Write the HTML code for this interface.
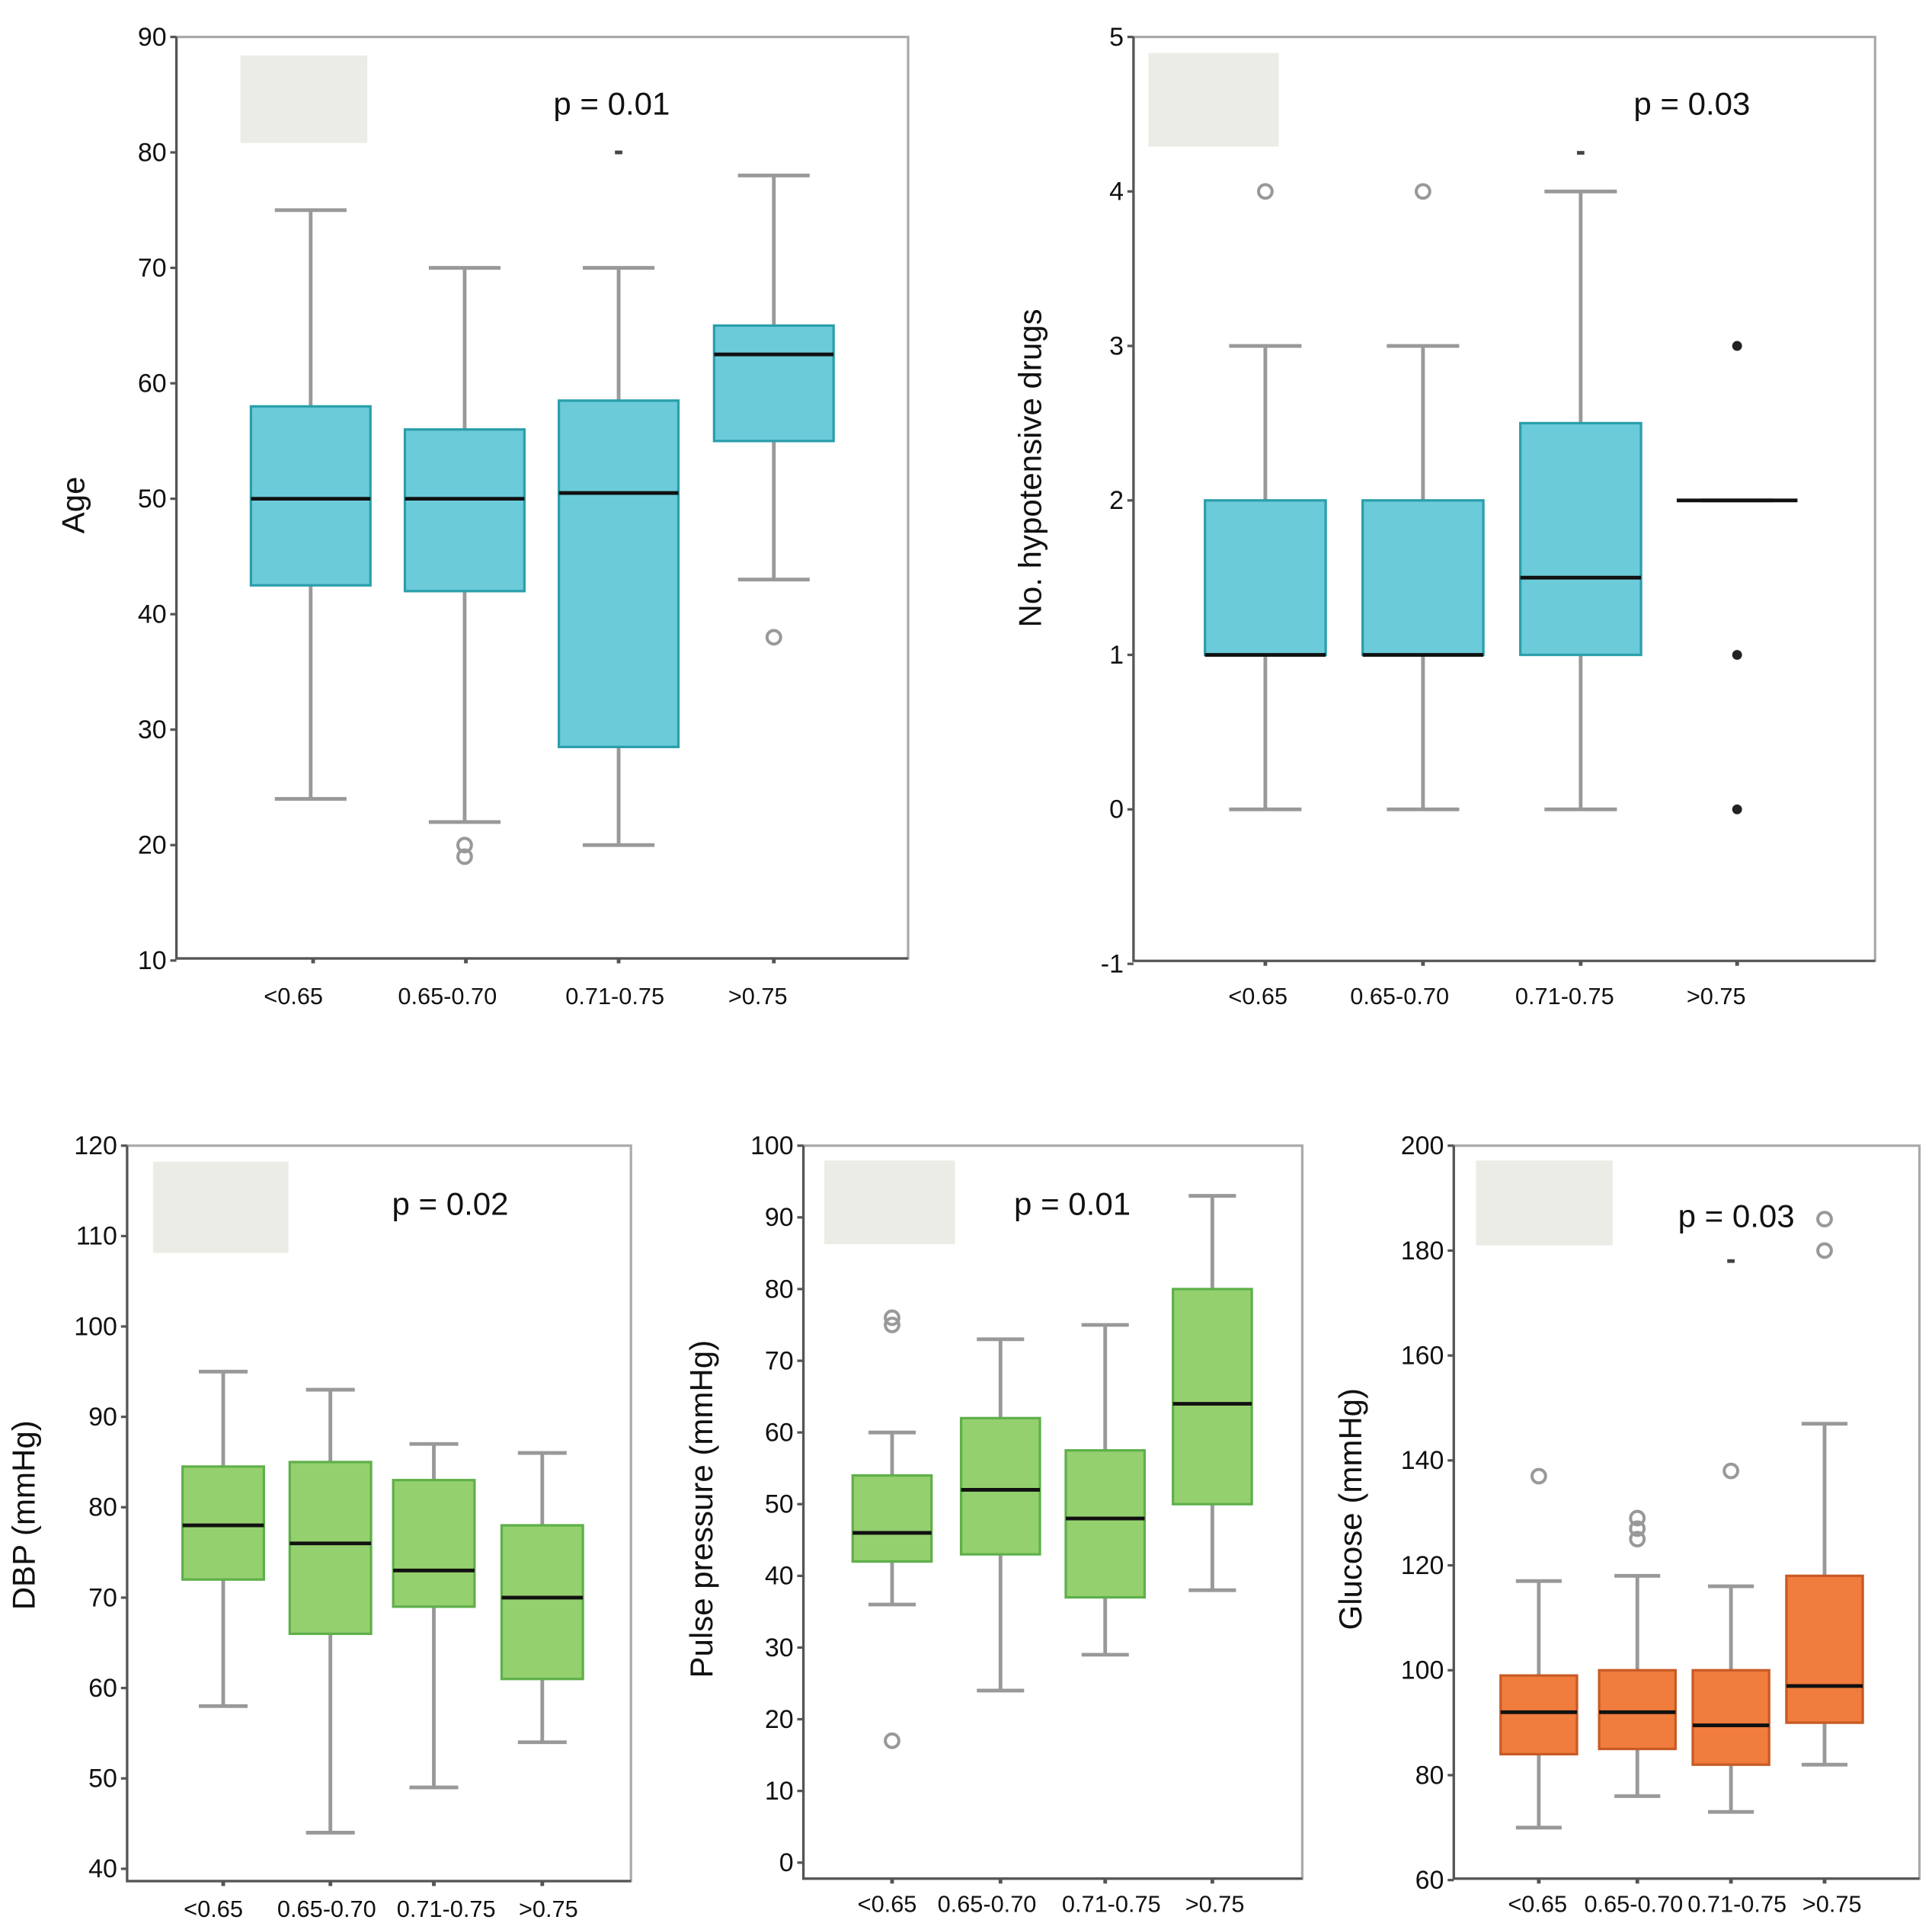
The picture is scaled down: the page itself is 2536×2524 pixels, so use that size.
<!DOCTYPE html>
<html><head><meta charset="utf-8"><style>
html,body{margin:0;padding:0;background:#fff;}
svg{display:block;font-family:"Liberation Sans",sans-serif;}
</style></head><body>
<svg id="c" width="2536" height="2524" viewBox="0 0 1568 1561" xmlns="http://www.w3.org/2000/svg"></svg>
<script>
// ---- data ----
const categories = ["<0.65","0.65-0.70","0.71-0.75",">0.75"];
const ageStats = [[24,42.5,50,58,75],[22,42,50,56,70],[20,28.5,50.5,58.5,70],[43,55,62.5,65,78]];
const ageOutliers = [[],[19,20],[],[38]];
const ageSmall = [[],[],[80],[]];
const ageTicks = [10,20,30,40,50,60,70,80,90];
const drugStats = [[0,1,1,2,3],[0,1,1,2,3],[0,1,1.5,2.5,4],[2,2,2,2,2]];
const drugOutliers = [[4],[4],[],[]];
const drugDots = [[],[],[],[3,1,0]];
const drugSmall = [[],[],[4.25],[]];
const drugTicks = [-1,0,1,2,3,4,5];
const dbpStats = [[58,72,78,84.5,95],[44,66,76,85,93],[49,69,73,83,87],[54,61,70,78,86]];
const dbpOutliers = [[],[],[],[]];
const dbpTicks = [40,50,60,70,80,90,100,110,120];
const ppStats = [[36,42,46,54,60],[24,43,52,62,73],[29,37,48,57.5,75],[38,50,64,80,93]];
const ppOutliers = [[75,76,17],[],[],[]];
const ppTicks = [0,10,20,30,40,50,60,70,80,90,100];
const gluStats = [[70,84,92,99,117],[76,85,92,100,118],[73,82,89.5,100,116],[82,90,97,118,147]];
const gluOutliers = [[137],[125,127,129],[138],[180,186]];
const gluSmall = [[],[],[178],[]];
const gluTicks = [60,80,100,120,140,160,180,200];

const svg = document.getElementById('c');
const NS = "http://www.w3.org/2000/svg";
function mk(tag, attrs, parent){const e=document.createElementNS(NS,tag);for(const k in attrs)e.setAttribute(k,attrs[k]);(parent||svg).appendChild(e);return e;}

function panel(o){
  const g = mk('g',{});
  
  
  const y = v => o.y0 + (v - o.vTop) * (o.y1 - o.y0) / (o.vRef - o.vTop);
  const fr = mk('rect',{x:o.l,y:o.t,width:o.r-o.l,height:o.b-o.t,fill:'none',stroke:'#aaa','stroke-width':2},g);
  
  
  const ax = mk('path',{d:`M${o.l},${o.t} V${o.b} H${o.r}`,fill:'none',stroke:'#555','stroke-width':2},g);
  
  
  const lg = mk('rect',{x:o.lg[0],y:o.lg[1],width:o.lg[2],height:o.lg[3],fill:'#ecece6'},g);
  
  
  const pt = mk('text',{x:o.p[0],y:o.p[1],'font-size':26,fill:'#111'},g);
  pt.textContent = o.ptext;
  
  
  o.ticks.forEach(v=>{
    const yy=y(v);
    mk('line',{x1:o.l-5,x2:o.l,y1:yy,y2:yy,stroke:'#555','stroke-width':2},g);
    const t=mk('text',{x:o.l-8,y:yy+7,'font-size':21,'text-anchor':'end',fill:'#111'},g);
    t.textContent=v;
    
    
  });
  const yt=mk('text',{x:o.yl[0],y:o.yl[1],'font-size':26,'text-anchor':'middle',fill:'#111',transform:`rotate(-90 ${o.yl[0]} ${o.yl[1]})`},g);
  yt.textContent=o.ytitle;
  
  
  o.stats.forEach((s,i)=>{
    const cx=o.cx[i], w=o.bw, hw=w*0.3;
    const bg=mk('g',{},g);
    
    
    mk('line',{x1:cx,x2:cx,y1:y(s[0]),y2:y(s[4]),stroke:'#999','stroke-width':3},bg);
    mk('line',{x1:cx-hw,x2:cx+hw,y1:y(s[0]),y2:y(s[0]),stroke:'#999','stroke-width':3},bg);
    mk('line',{x1:cx-hw,x2:cx+hw,y1:y(s[4]),y2:y(s[4]),stroke:'#999','stroke-width':3},bg);
    if(s[3]>s[1]) mk('rect',{x:cx-w/2,y:y(s[3]),width:w,height:y(s[1])-y(s[3]),fill:o.fill,stroke:o.stroke,'stroke-width':2},bg);
    mk('line',{x1:cx-w/2,x2:cx+w/2,y1:y(s[2]),y2:y(s[2]),stroke:'#111','stroke-width':3},bg);
    (o.out[i]||[]).forEach(v=>{mk('circle',{cx:cx,cy:y(v),r:5.5,fill:'none',stroke:'#999','stroke-width':2.5},bg);});
    (o.dots&&o.dots[i]||[]).forEach(v=>{mk('circle',{cx:cx,cy:y(v),r:4,fill:'#222'},bg);});
    (o.small&&o.small[i]||[]).forEach(v=>{mk('rect',{x:cx-3,y:y(v)-1.5,width:6,height:3,fill:'#444'},bg);});
    mk('line',{x1:o.tx[i],x2:o.tx[i],y1:o.b,y2:o.b+4,stroke:'#555','stroke-width':3},g);
    const xl=mk('text',{x:o.lx[i],y:o.ly,'font-size':19,'text-anchor':'middle',fill:'#111'},g);
    xl.textContent=categories[i];
    
    
  });
}

panel({name:'age-panel',l:143,r:737,t:30,b:778,vTop:90,y0:30,vRef:20,y1:686,ticks:ageTicks,
  stats:ageStats,out:ageOutliers,small:ageSmall,cx:[252,377,502,628],tx:[254,378,502,628],bw:97,
  lx:[238,363,499,615],ly:815,fill:'#6ccbd9',stroke:'#2a9fab',lg:[195,45,103,71],p:[449,93],ptext:'p = 0.01',
  yl:[68,410],ytitle:'Age'});
panel({name:'drugs-panel',l:920,r:1522,t:30,b:780,vTop:5,y0:30,vRef:0,y1:657,ticks:drugTicks,
  stats:drugStats,out:drugOutliers,dots:drugDots,small:drugSmall,cx:[1027,1155,1283,1410],tx:[1027,1155,1283,1410],bw:98,
  lx:[1021,1136,1270,1393],ly:815,fill:'#6ccbd9',stroke:'#2a9fab',lg:[932,43,106,76],p:[1326,93],ptext:'p = 0.03',
  yl:[845,380],ytitle:'No. hypotensive drugs'});
panel({name:'dbp-panel',l:103,r:512,t:930,b:1527,vTop:120,y0:930,vRef:40,y1:1517,ticks:dbpTicks,
  stats:dbpStats,out:dbpOutliers,cx:[181,268,352,440],tx:[181,268,352,440],bw:66,
  lx:[173,265,362,445],ly:1556,fill:'#95d06f',stroke:'#5fb04a',lg:[124,943,110,74],p:[318,986],ptext:'p = 0.02',
  yl:[28,1230],ytitle:'DBP (mmHg)'});
panel({name:'pulse-pressure-panel',l:652,r:1057,t:930,b:1525,vTop:100,y0:930,vRef:0,y1:1512,ticks:ppTicks,
  stats:ppStats,out:ppOutliers,cx:[724,812,897,984],tx:[724,812,897,984],bw:64,
  lx:[720,801,902,986],ly:1552,fill:'#95d06f',stroke:'#5fb04a',lg:[669,942,106,68],p:[823,986],ptext:'p = 0.01',
  yl:[578,1225],ytitle:'Pulse pressure (mmHg)'});
panel({name:'glucose-panel',l:1180,r:1558,t:930,b:1525,vTop:200,y0:930,vRef:80,y1:1441,ticks:gluTicks,
  stats:gluStats,out:gluOutliers,small:gluSmall,cx:[1249,1329,1405,1481],tx:[1249,1329,1405,1481],bw:62,
  lx:[1248,1326,1410,1487],ly:1552,fill:'#f07c3d',stroke:'#c85a25',lg:[1198,942,111,69],p:[1362,996],ptext:'p = 0.03',
  yl:[1105,1225],ytitle:'Glucose (mmHg)'});
</script>
</body></html>
